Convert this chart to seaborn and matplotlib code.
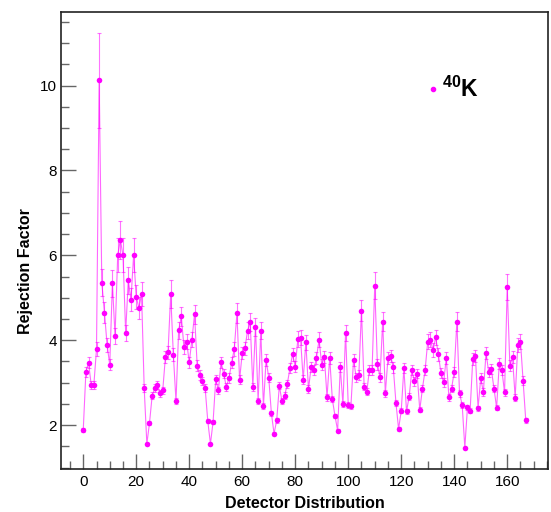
import numpy as np
import pandas as pd
import matplotlib
matplotlib.use('Agg')
import matplotlib.pyplot as plt
import seaborn as sns
from matplotlib.lines import Line2D
from matplotlib.ticker import MultipleLocator

# Rejection factor per detector
rejection = [1.89, 3.26, 3.47, 2.95, 2.95, 3.79, 10.12, 5.36, 4.65, 3.89,
             3.42, 5.34, 4.10, 6.00, 6.37, 6.00, 4.18, 5.41, 4.95, 6.00,
             5.02, 4.76, 5.09, 2.87, 1.56, 2.05, 2.69, 2.87, 2.95, 2.75,
             2.82, 3.60, 3.72, 5.09, 3.66, 2.56, 4.23, 4.56, 3.84, 3.97,
             3.48, 4.01, 4.61, 3.40, 3.18, 3.04, 2.87, 2.09, 1.56, 2.08,
             3.08, 2.82, 3.48, 3.21, 2.90, 3.11, 3.47, 3.80, 4.64, 3.07,
             3.70, 3.81, 4.22, 4.43, 2.90, 4.32, 2.56, 4.22, 2.45, 3.54,
             3.12, 2.28, 1.80, 2.11, 2.93, 2.56, 2.69, 2.97, 3.34, 3.67,
             3.38, 4.03, 4.06, 3.07, 3.95, 2.85, 3.37, 3.29, 3.59, 4.01,
             3.42, 3.60, 2.66, 3.59, 2.61, 2.22, 1.87, 3.37, 2.49, 4.18,
             2.48, 2.44, 3.54, 3.13, 3.18, 4.70, 2.91, 2.79, 3.30, 3.29,
             5.29, 3.44, 3.13, 4.44, 2.75, 3.58, 3.63, 3.36, 2.53, 1.91,
             2.34, 3.34, 2.33, 2.67, 3.29, 3.03, 3.21, 2.36, 2.86, 3.29,
             3.97, 4.01, 3.77, 4.07, 3.67, 3.23, 3.01, 3.58, 2.66, 2.86,
             3.26, 4.44, 2.75, 2.48, 1.47, 2.42, 2.34, 3.56, 3.63, 2.40,
             3.11, 2.78, 3.70, 3.26, 3.32, 2.86, 2.41, 3.45, 3.29, 2.77,
             5.25, 3.40, 3.60, 2.65, 3.89, 3.97, 3.05, 2.11]

errors = [0.04, 0.12, 0.13, 0.10, 0.10, 0.16, 1.12, 0.32, 0.24, 0.17,
          0.13, 0.31, 0.18, 0.40, 0.45, 0.40, 0.19, 0.32, 0.27, 0.40,
          0.28, 0.25, 0.28, 0.09, 0.03, 0.05, 0.08, 0.09, 0.10, 0.08,
          0.09, 0.14, 0.15, 0.33, 0.15, 0.07, 0.20, 0.23, 0.16, 0.17,
          0.13, 0.18, 0.23, 0.13, 0.11, 0.10, 0.09, 0.05, 0.03, 0.05,
          0.10, 0.09, 0.13, 0.11, 0.09, 0.11, 0.13, 0.16, 0.24, 0.10,
          0.15, 0.16, 0.20, 0.22, 0.09, 0.21, 0.07, 0.20, 0.07, 0.14,
          0.11, 0.06, 0.04, 0.05, 0.09, 0.07, 0.08, 0.10, 0.12, 0.15,
          0.13, 0.18, 0.18, 0.10, 0.17, 0.09, 0.12, 0.12, 0.14, 0.18,
          0.13, 0.14, 0.08, 0.14, 0.07, 0.05, 0.04, 0.12, 0.07, 0.19,
          0.07, 0.07, 0.14, 0.11, 0.11, 0.24, 0.09, 0.09, 0.12, 0.12,
          0.31, 0.13, 0.11, 0.22, 0.08, 0.14, 0.15, 0.12, 0.07, 0.04,
          0.06, 0.12, 0.06, 0.08, 0.12, 0.10, 0.11, 0.06, 0.09, 0.12,
          0.17, 0.18, 0.16, 0.18, 0.15, 0.11, 0.10, 0.14, 0.08, 0.09,
          0.12, 0.22, 0.08, 0.07, 0.02, 0.06, 0.06, 0.14, 0.15, 0.06,
          0.11, 0.09, 0.15, 0.12, 0.12, 0.09, 0.06, 0.13, 0.12, 0.08,
          0.30, 0.13, 0.14, 0.08, 0.17, 0.17, 0.10, 0.05]

detector = list(range(len(rejection)))

df = pd.DataFrame({'detector': detector, 'rejection': rejection, 'err': errors})

sns.set_style('ticks')
plt.rcParams['font.family'] = ['Liberation Sans', 'DejaVu Sans']
plt.rcParams['mathtext.fontset'] = 'custom'
plt.rcParams['mathtext.bf'] = 'Liberation Sans:bold'
plt.rcParams['mathtext.rm'] = 'Liberation Sans'
plt.rcParams['text.color'] = 'black'
plt.rcParams['axes.labelcolor'] = 'black'
plt.rcParams['xtick.labelcolor'] = 'black'
plt.rcParams['ytick.labelcolor'] = 'black'

col = '#ff00ff'

fig = plt.figure(figsize=(5.51, 5.12), dpi=100)
ax = fig.add_axes([0.1107, 0.0834, 0.8839, 0.8937])

# error bars + connecting line
ax.errorbar(df['detector'], df['rejection'], yerr=df['err'], fmt='none',
            ecolor=col, elinewidth=0.8, capsize=1.6, capthick=0.8, alpha=0.55)
sns.lineplot(data=df, x='detector', y='rejection', ax=ax, color=col,
             linewidth=0.8, alpha=0.6, sort=False)
sns.scatterplot(data=df, x='detector', y='rejection', ax=ax, color=col,
                s=16, linewidth=0, zorder=3)

ax.set_xlim(-8.4, 175.4)
ax.set_ylim(0.96, 11.74)
ax.xaxis.set_major_locator(MultipleLocator(20))
ax.xaxis.set_minor_locator(MultipleLocator(5))
ax.yaxis.set_major_locator(MultipleLocator(2))
ax.yaxis.set_minor_locator(MultipleLocator(0.5))

ax.tick_params(which='both', direction='in', color='#666666', width=1.0,
               labelsize=11, labelcolor='black', top=False, right=False)
ax.tick_params(which='major', length=11)
ax.tick_params(which='minor', length=5.5)
ax.tick_params(axis='x', pad=4)
ax.tick_params(axis='y', pad=3)

for sp in ax.spines.values():
    sp.set_color('#222222')
    sp.set_linewidth(1.2)

ax.set_xlabel('Detector Distribution', fontsize=11.5, fontweight='bold', color='black')
ax.set_ylabel('Rejection Factor', fontsize=11.5, fontweight='bold', color='black')
ax.xaxis.set_label_coords(0.5, -0.058)
ax.yaxis.set_label_coords(-0.057, 0.433)

handle = Line2D([], [], marker='o', color=col, linestyle='none', markersize=3)
leg = ax.legend([handle], [r'$^{\mathbf{40}}$K'], loc='center left',
                bbox_to_anchor=(0.776, 0.826), bbox_transform=fig.transFigure,
                frameon=False, handlelength=0.5, handletextpad=0.15,
                borderpad=0, borderaxespad=0,
                prop={'size': 16.5, 'weight': 'bold'})
for t in leg.get_texts():
    t.set_color('black')

fig.savefig('out.png', dpi=100)
